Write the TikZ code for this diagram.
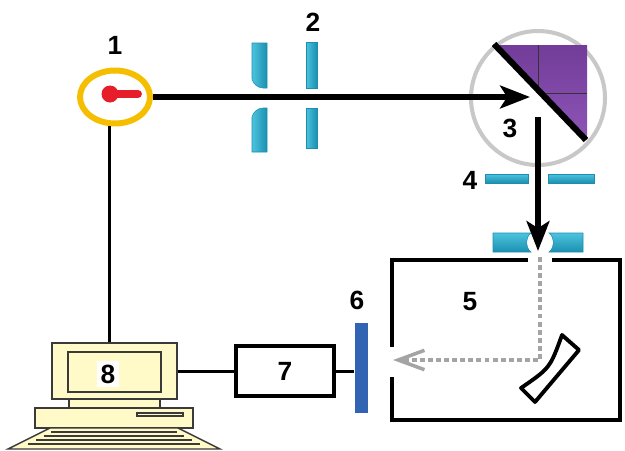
\documentclass[tikz,border=0pt]{standalone}
\usepackage{fontspec}
\setsansfont{Liberation Sans}
\usepackage{tikz}
\usetikzlibrary{arrows.meta,shapes.geometric}
\definecolor{ringyellow}{HTML}{F6BE00}
\definecolor{keyred}{HTML}{E51E2A}
\definecolor{ringgray}{HTML}{C8C8C8}
\definecolor{prismtop}{HTML}{723C98}
\definecolor{prismbot}{HTML}{8E55B8}
\definecolor{lenslight}{HTML}{4CC4DE}
\definecolor{lensdark}{HTML}{1C8FB0}
\definecolor{probegray}{HTML}{A4A4A4}
\definecolor{detblue}{HTML}{3363B3}
\definecolor{pcfill}{HTML}{FFFAC8}
\definecolor{pcline}{HTML}{3A3A3A}
\tikzset{num/.style={font=\sffamily\bfseries\fontsize{15}{18}\selectfont},
  beam/.style={line width=3pt,-{Stealth[length=17pt,width=13pt,inset=4pt]}},
  probe/.style={draw=probegray,line width=2.8pt,dash pattern=on 2.8pt off 1.8pt,
    -{Straight Barb[length=15pt,width=11pt,line width=2pt]}},
  vlens/.style={left color=lenslight,right color=lensdark,draw=lensdark,line width=0.3pt},
  hlens/.style={top color=lenslight,bottom color=lensdark,draw=lensdark,line width=0.3pt},
  wall/.style={line width=2.3pt},
  wire/.style={line width=1.7pt},
  pcpart/.style={draw=pcline,fill=pcfill,line width=0.8pt}}

\begin{document}
\begin{tikzpicture}[x=0.02cm,y=-0.02cm]
  \useasboundingbox (0,0) rectangle (625,450);

  % laser
  \node[ellipse,draw=ringyellow,line width=3.4pt,minimum width=1.4cm,minimum height=1.06cm] (laser) at (115,97) {};
  \fill[keyred] (110,94) circle[radius=8.5];
  \draw[keyred,line width=4.5pt,line cap=round] (110,94) -- (138,94);
  \node[num] at (115,45) {1};

  % lens and plate
  \shade[vlens] (252,43) -- (267,43) -- (267,88) -- (263,88) .. controls (258,88) and (253,84) .. (252,79) -- cycle;
  \shade[vlens] (252,117) .. controls (253,112) and (258,108) .. (263,108) -- (267,108) -- (267,152) -- (252,152) -- cycle;
  \shade[vlens] (306,42) rectangle (317,88);
  \shade[vlens] (306,108) rectangle (317,148);
  \node[num] at (313,22) {2};

  % prism in its mount
  \draw[ringgray,line width=2.3pt] (538,98) circle[radius=67];
  \shade[top color=prismtop,bottom color=prismbot] (495,45) -- (587,45) -- (587,140) -- cycle;
  \begin{scope}
    \clip (495,45) -- (587,45) -- (587,140) -- cycle;
    \draw[black!80,line width=0.4pt] (538,45) -- (538,140) (495,93) -- (587,93);
  \end{scope}
  \draw[line width=3.5pt] (494,44) -- (586,140);
  \node[num] at (510,128) {3};
  \coordinate (splitter) at (530,97);
  \coordinate (turn) at (538,117);
  \coordinate (inlet) at (538,251);

  % aperture 4 and entrance slit
  \shade[hlens] (485,174) rectangle (528,183);
  \shade[hlens] (548,174) rectangle (594,183);
  \node[num] at (470,180) {4};
  \shade[hlens] (493,233) -- (531,233) .. controls (525,238) and (525,247) .. (531,252) -- (493,252) -- cycle;
  \shade[hlens] (549,233) .. controls (555,238) and (555,247) .. (549,252) -- (583,252) -- (583,233) -- cycle;

  \draw[beam] (laser.east) -- (splitter);
  \draw[beam] (turn) -- (inlet);

  % chamber 5
  \draw[wall] (528,260) -- (392,260) -- (392,347);
  \draw[wall] (392,377) -- (392,420) -- (620,420) -- (620,260) -- (552,260);
  \node[num] at (470,302) {5};
  \coordinate (entry) at (540,257);
  \coordinate (fold) at (540,360);
  \coordinate (window) at (393,360);
  \draw[probe] (entry) -- (fold) -- (window);
  \draw[line width=2.2pt,fill=white,line join=round] (562,335) -- (579,350)
    .. controls (557,376) .. (535,402) -- (521,388) .. controls (550,368) .. (562,335) -- cycle;

  % detector 6 and unit 7
  \node[fill=detblue,minimum width=0.26cm,minimum height=1.8cm,inner sep=0pt] (det) at (361,368) {};
  \node[num] at (357,300) {6};
  \node[draw,line width=2.3pt,minimum width=1.96cm,minimum height=1cm,num] (proc) at (285,371) {7};

  % computer 8
  \node[pcpart,minimum width=2.5cm,minimum height=1.12cm,inner sep=0pt] (pc) at (114.5,371) {};
  \draw[pcpart] (68,352) rectangle (161,392);
  \node[num,fill=white,inner sep=2pt] (pclabel) at (108,374) {8};
  \draw[pcpart] (69,399) rectangle (160,408);
  \draw[pcpart] (35,408) rectangle (193,428);
  \draw[pcpart] (137,413) rectangle (183,416);
  \draw[pcpart] (50,428) -- (178,428) -- (220,449) -- (8,449) -- cycle;
  \foreach \yy in {432,436,440,444}
    \draw[pcline,line width=0.7pt] ({59-(\yy-428)*1.91},\yy) -- ({169+(\yy-428)*1.91},\yy);

  \draw[wire] (laser.260) -- (laser.260 |- pc.north);
  \draw[wire] (pc.east) -- (proc.west);
  \draw[wire] (proc.east) -- (proc.east -| det.west);
\end{tikzpicture}
\end{document}
